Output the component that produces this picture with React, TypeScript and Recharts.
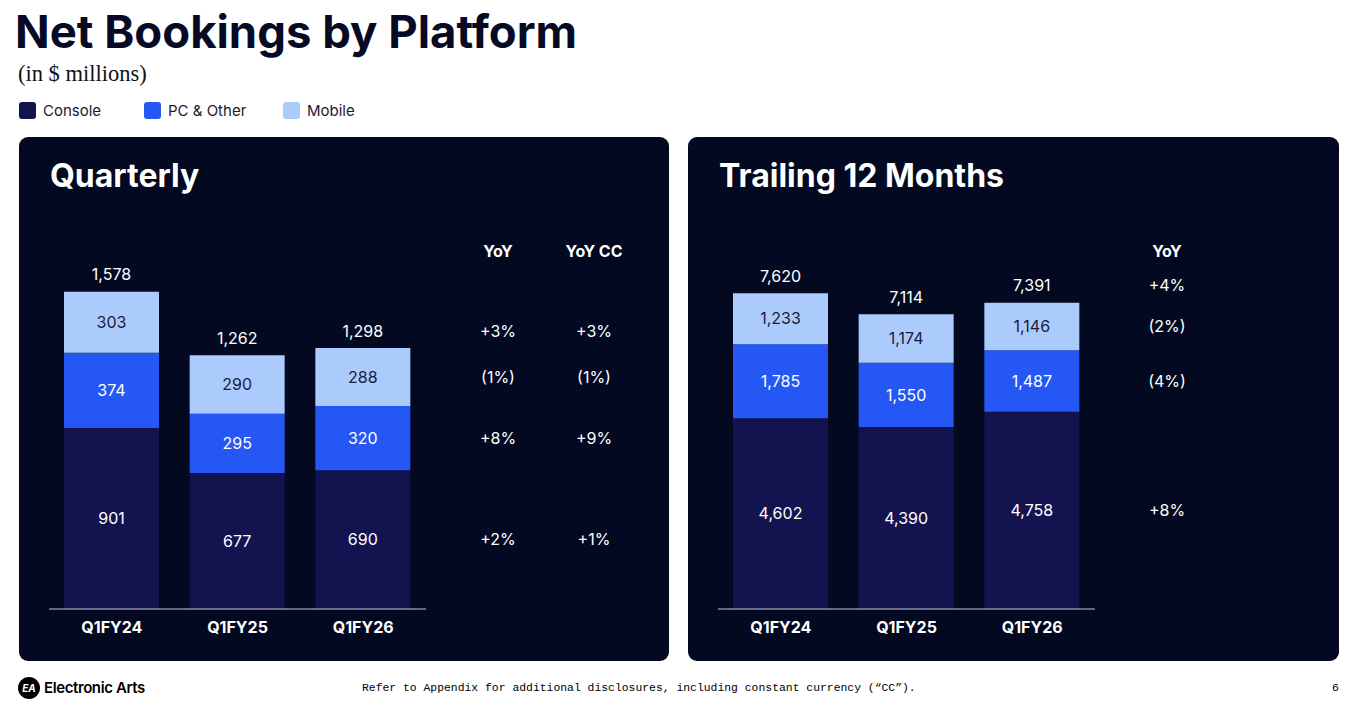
import React from 'react';
import { BarChart, Bar, XAxis, YAxis, LabelList } from 'recharts';

const categories = ['Q1FY24', 'Q1FY25', 'Q1FY26'];

const quarterlyConsole = [901, 677, 690];
const quarterlyPc = [374, 295, 320];
const quarterlyMobile = [303, 290, 288];
const quarterlyTotal = [1578, 1262, 1298];

const ttmConsole = [4602, 4390, 4758];
const ttmPc = [1785, 1550, 1487];
const ttmMobile = [1233, 1174, 1146];
const ttmTotal = [7620, 7114, 7391];

// rows: total, mobile, pc, console
const quarterlyYoY = ['+3%', '(1%)', '+8%', '+2%'];
const quarterlyYoYCC = ['+3%', '(1%)', '+9%', '+1%'];
const ttmYoY = ['+4%', '(2%)', '(4%)', '+8%'];

const COLORS = { console: '#13134f', pc: '#2557f5', mobile: '#abcbfd' };
const PANEL_BG = '#020920';
const FONT = 'Inter, "Noto Sans", sans-serif';

type Row = { name: string; console: number; pc: number; mobile: number; total: number };

const buildRows = (c: number[], p: number[], m: number[], t: number[]): Row[] =>
  categories.map((name, i) => ({ name, console: c[i], pc: p[i], mobile: m[i], total: t[i] }));

type Column = { header: string; x: number; values: string[] };

const fmt = (v: any) => Number(v).toLocaleString('en-US');

interface PanelProps {
  title: string;
  rows: Row[];
  max: number;
  columns: Column[];
  left: number;
  width: number;
}

const Panel: React.FC<PanelProps> = ({ title, rows, max, columns, left, width }) => {
  const last = rows.length - 1;

  // draws the YoY text for a given row (0 = total, 1 = mobile, 2 = pc, 3 = console)
  const yoyContent = (rowIdx: number, isTotal = false) => (props: any) => {
    const { y, height, index } = props;
    if (index !== last) return null;
    const cy = isTotal ? Number(y) - 17 : Number(y) + Number(height) / 2;
    return (
      <g>
        {columns.map((col) => (
          <text key={col.header} x={col.x} y={cy} dy="0.35em" textAnchor="middle" fill="#ffffff" fontSize={16} fontFamily={FONT}>
            {col.values[rowIdx]}
          </text>
        ))}
      </g>
    );
  };

  const totalContent = (props: any) => {
    const { x, y, width: w, index } = props;
    return (
      <text x={Number(x) + Number(w) / 2} y={Number(y) - 17} dy="0.35em" textAnchor="middle" fill="#ffffff" fontSize={16} fontFamily={FONT}>
        {fmt(rows[index].total)}
      </text>
    );
  };

  return (
    <div style={{ position: 'absolute', left, top: 137, width, height: 524, background: PANEL_BG, borderRadius: 9 }}>
      <div style={{ position: 'absolute', left: 31, top: 19, color: '#fff', fontFamily: FONT, fontWeight: 700, fontSize: 32 }}>{title}</div>
      {columns.map((col) => (
        <div key={col.header} style={{ position: 'absolute', left: col.x - 50, width: 100, top: 104, textAlign: 'center', color: '#fff', fontFamily: FONT, fontWeight: 700, fontSize: 16 }}>
          {col.header}
        </div>
      ))}
      <div style={{ position: 'absolute', left: 0, top: 0 }}>
        <BarChart width={width} height={524} data={rows} margin={{ top: 70, right: width - 407, bottom: 22, left: 30 }}>
          <XAxis
            dataKey="name"
            axisLine={{ stroke: '#c9cbd6', strokeWidth: 1 }}
            tickLine={false}
            height={30}
            tickSize={6}
            tickMargin={7}
            tick={{ fill: '#ffffff', fontSize: 16, fontWeight: 700, fontFamily: FONT }}
          />
          <YAxis hide domain={[0, max]} />
          <Bar dataKey="console" stackId="a" fill={COLORS.console} barSize={95} isAnimationActive={false}>
            <LabelList dataKey="console" position="center" formatter={fmt} fill="#ffffff" fontSize={16} fontFamily={FONT} />
            <LabelList dataKey="console" content={yoyContent(3)} />
          </Bar>
          <Bar dataKey="pc" stackId="a" fill={COLORS.pc} barSize={95} isAnimationActive={false}>
            <LabelList dataKey="pc" position="center" formatter={fmt} fill="#ffffff" fontSize={16} fontFamily={FONT} />
            <LabelList dataKey="pc" content={yoyContent(2)} />
          </Bar>
          <Bar dataKey="mobile" stackId="a" fill={COLORS.mobile} barSize={95} isAnimationActive={false}>
            <LabelList dataKey="mobile" position="center" formatter={fmt} fill="#1b1b3a" fontSize={16} fontFamily={FONT} />
            <LabelList dataKey="total" content={totalContent} />
            <LabelList dataKey="mobile" content={yoyContent(1)} />
            <LabelList dataKey="total" content={yoyContent(0, true)} />
          </Bar>
        </BarChart>
      </div>
    </div>
  );
};

const legendItems = [
  { label: 'Console', color: COLORS.console, left: 19 },
  { label: 'PC & Other', color: COLORS.pc, left: 144 },
  { label: 'Mobile', color: COLORS.mobile, left: 283 },
];

export default function App() {
  const quarterlyRows = buildRows(quarterlyConsole, quarterlyPc, quarterlyMobile, quarterlyTotal);
  const ttmRows = buildRows(ttmConsole, ttmPc, ttmMobile, ttmTotal);

  return (
    <div style={{ position: 'absolute', left: 0, top: 0, width: 1351, height: 713, background: '#ffffff', overflow: 'hidden', fontFamily: FONT }}>
      <div style={{ position: 'absolute', left: 15, top: 4, fontSize: 45.5, fontWeight: 700, color: '#070a24' }}>
        Net Bookings by Platform
      </div>
      <div style={{ position: 'absolute', left: 18, top: 61, fontSize: 22.5, fontFamily: '"Liberation Serif", "DejaVu Serif", serif', color: '#111' }}>
        (in $ millions)
      </div>
      {legendItems.map((it) => (
        <div key={it.label} style={{ position: 'absolute', left: it.left, top: 101, display: 'flex', alignItems: 'center' }}>
          <div style={{ width: 17, height: 17, borderRadius: 3, background: it.color }} />
          <span style={{ marginLeft: 7, fontSize: 15, color: '#1a1a2e' }}>{it.label}</span>
        </div>
      ))}

      <Panel
        title="Quarterly"
        rows={quarterlyRows}
        max={2000}
        left={19}
        width={650}
        columns={[
          { header: 'YoY', x: 479, values: quarterlyYoY },
          { header: 'YoY CC', x: 575, values: quarterlyYoYCC },
        ]}
      />
      <Panel
        title="Trailing 12 Months"
        rows={ttmRows}
        max={9700}
        left={688}
        width={651}
        columns={[{ header: 'YoY', x: 479, values: ttmYoY }]}
      />

      <div style={{ position: 'absolute', left: 18, top: 677, width: 22, height: 22, borderRadius: 11, background: '#000', color: '#fff', fontSize: 10, fontWeight: 700, display: 'flex', alignItems: 'center', justifyContent: 'center', fontStyle: 'italic' }}>
        EA
      </div>
      <div style={{ position: 'absolute', left: 44, top: 678, fontSize: 15, fontWeight: 600, color: '#000', letterSpacing: -0.4 }}>Electronic Arts</div>
      <div style={{ position: 'absolute', left: 362, top: 682, fontSize: 11.4, fontFamily: '"Liberation Mono", "DejaVu Sans Mono", monospace', color: '#000' }}>
        Refer to Appendix for additional disclosures, including constant currency (“CC”).
      </div>
      <div style={{ position: 'absolute', left: 1332, top: 682, fontSize: 11.4, fontFamily: '"Liberation Mono", monospace', color: '#000' }}>6</div>
    </div>
  );
}
